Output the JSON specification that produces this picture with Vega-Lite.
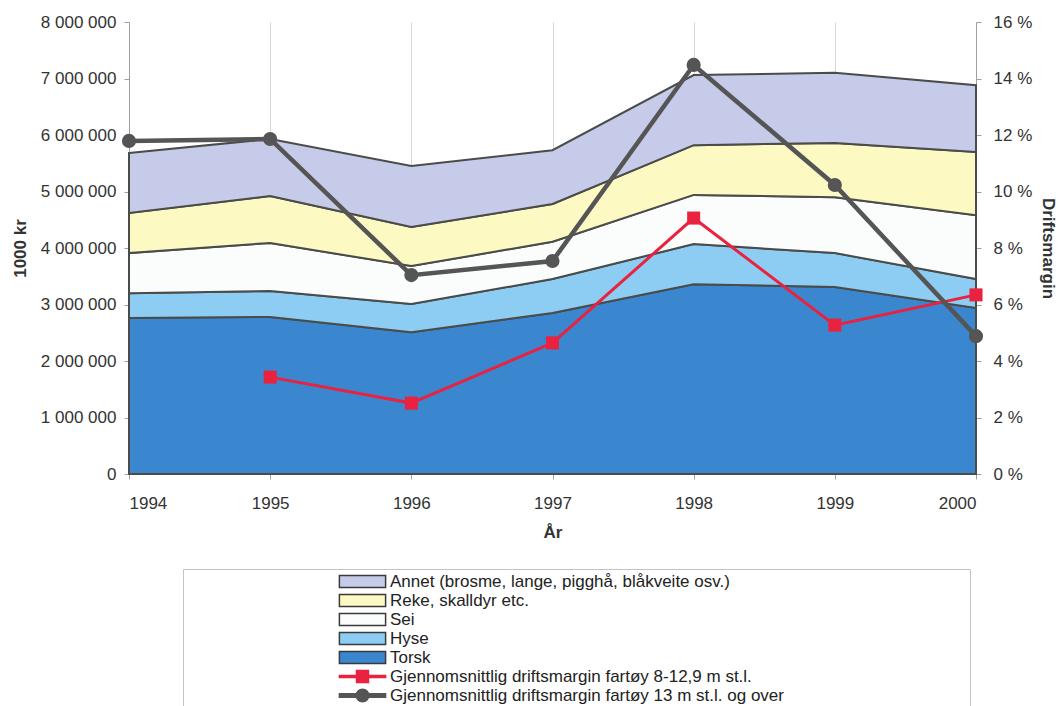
{
  "$schema": "https://vega.github.io/schema/vega-lite/v6.json",
  "width": 847,
  "height": 452,
  "autosize": {"type": "none"},
  "padding": {"left": 129, "top": 22, "right": 85, "bottom": 232},
  "background": "white",
  "config": {
    "view": {"stroke": null},
    "font": "Liberation Sans",
    "locale": {"number": {"decimal": ",", "thousands": " ", "grouping": [3], "currency": ["", " kr"]}},
    "axis": {
      "labelFontSize": 17,
      "labelColor": "#333333",
      "labelFont": "Liberation Sans",
      "titleFont": "Liberation Sans",
      "titleFontSize": 17,
      "titleFontWeight": "bold",
      "titleColor": "#333333",
      "domainColor": "#a0a0a0",
      "tickColor": "#a0a0a0",
      "tickSize": 5
    },
    "legend": {
      "orient": "none",
      "legendX": 54,
      "legendY": 547,
      "labelFontSize": 17,
      "labelColor": "#222222",
      "labelFont": "Liberation Sans",
      "labelLimit": 700,
      "symbolSize": 144,
      "symbolOffset": 167,
      "labelOffset": 19,
      "rowPadding": 0,
      "padding": 4,
      "strokeColor": "#c4c4c4",
      "fillColor": "white",
      "symbolOpacity": 1,
      "symbolStrokeWidth": 1.5,
      "titleOrient": "right",
      "titleAngle": 0,
      "titleFontSize": 17,
      "titleFont": "DejaVu Sans",
      "titleColor": "transparent",
      "titlePadding": 5,
      "titleLimit": 180
    }
  },
  "datasets": {
    "areas": [
      {"year": 1994, "serie": "Torsk", "value": 2760000},
      {"year": 1995, "serie": "Torsk", "value": 2780000},
      {"year": 1996, "serie": "Torsk", "value": 2510000},
      {"year": 1997, "serie": "Torsk", "value": 2850000},
      {"year": 1998, "serie": "Torsk", "value": 3360000},
      {"year": 1999, "serie": "Torsk", "value": 3310000},
      {"year": 2000, "serie": "Torsk", "value": 2940000},
      {"year": 1994, "serie": "Hyse", "value": 440000},
      {"year": 1995, "serie": "Hyse", "value": 460000},
      {"year": 1996, "serie": "Hyse", "value": 500000},
      {"year": 1997, "serie": "Hyse", "value": 600000},
      {"year": 1998, "serie": "Hyse", "value": 710000},
      {"year": 1999, "serie": "Hyse", "value": 600000},
      {"year": 2000, "serie": "Hyse", "value": 510000},
      {"year": 1994, "serie": "Sei", "value": 710000},
      {"year": 1995, "serie": "Sei", "value": 850000},
      {"year": 1996, "serie": "Sei", "value": 670000},
      {"year": 1997, "serie": "Sei", "value": 660000},
      {"year": 1998, "serie": "Sei", "value": 870000},
      {"year": 1999, "serie": "Sei", "value": 990000},
      {"year": 2000, "serie": "Sei", "value": 1130000},
      {"year": 1994, "serie": "Reke, skalldyr etc.", "value": 710000},
      {"year": 1995, "serie": "Reke, skalldyr etc.", "value": 830000},
      {"year": 1996, "serie": "Reke, skalldyr etc.", "value": 690000},
      {"year": 1997, "serie": "Reke, skalldyr etc.", "value": 670000},
      {"year": 1998, "serie": "Reke, skalldyr etc.", "value": 880000},
      {"year": 1999, "serie": "Reke, skalldyr etc.", "value": 960000},
      {"year": 2000, "serie": "Reke, skalldyr etc.", "value": 1120000},
      {"year": 1994, "serie": "Annet (brosme, lange, pigghå, blåkveite osv.)", "value": 1060000},
      {"year": 1995, "serie": "Annet (brosme, lange, pigghå, blåkveite osv.)", "value": 1010000},
      {"year": 1996, "serie": "Annet (brosme, lange, pigghå, blåkveite osv.)", "value": 1080000},
      {"year": 1997, "serie": "Annet (brosme, lange, pigghå, blåkveite osv.)", "value": 950000},
      {"year": 1998, "serie": "Annet (brosme, lange, pigghå, blåkveite osv.)", "value": 1240000},
      {"year": 1999, "serie": "Annet (brosme, lange, pigghå, blåkveite osv.)", "value": 1240000},
      {"year": 2000, "serie": "Annet (brosme, lange, pigghå, blåkveite osv.)", "value": 1180000}
    ],
    "margins": [
      {"year": 1995, "serie": "Gjennomsnittlig driftsmargin fartøy 8-12,9 m st.l.", "pct": 3.43},
      {"year": 1996, "serie": "Gjennomsnittlig driftsmargin fartøy 8-12,9 m st.l.", "pct": 2.51},
      {"year": 1997, "serie": "Gjennomsnittlig driftsmargin fartøy 8-12,9 m st.l.", "pct": 4.64},
      {"year": 1998, "serie": "Gjennomsnittlig driftsmargin fartøy 8-12,9 m st.l.", "pct": 9.06},
      {"year": 1999, "serie": "Gjennomsnittlig driftsmargin fartøy 8-12,9 m st.l.", "pct": 5.27},
      {"year": 2000, "serie": "Gjennomsnittlig driftsmargin fartøy 8-12,9 m st.l.", "pct": 6.34},
      {"year": 1994, "serie": "Gjennomsnittlig driftsmargin fartøy 13 m st.l. og over", "pct": 11.79},
      {"year": 1995, "serie": "Gjennomsnittlig driftsmargin fartøy 13 m st.l. og over", "pct": 11.86},
      {"year": 1996, "serie": "Gjennomsnittlig driftsmargin fartøy 13 m st.l. og over", "pct": 7.04},
      {"year": 1997, "serie": "Gjennomsnittlig driftsmargin fartøy 13 m st.l. og over", "pct": 7.54},
      {"year": 1998, "serie": "Gjennomsnittlig driftsmargin fartøy 13 m st.l. og over", "pct": 14.48},
      {"year": 1999, "serie": "Gjennomsnittlig driftsmargin fartøy 13 m st.l. og over", "pct": 10.23},
      {"year": 2000, "serie": "Gjennomsnittlig driftsmargin fartøy 13 m st.l. og over", "pct": 4.88}
    ]
  },
  "layer": [
    {
      "data": {"name": "areas"},
      "transform": [
        {"calculate": "indexof(['Torsk', 'Hyse', 'Sei', 'Reke, skalldyr etc.', 'Annet (brosme, lange, pigghå, blåkveite osv.)'], datum.serie)", "as": "stackrank"}
      ],
      "mark": {"type": "area", "stroke": "#4a4c4a", "strokeWidth": 2, "opacity": 1},
      "encoding": {
        "x": {
          "field": "year", "type": "quantitative",
          "scale": {"domain": [1994, 2000], "nice": false, "zero": false},
          "axis": {"values": [1994, 1995, 1996, 1997, 1998, 1999, 2000], "format": "d", "title": "År", "grid": true, "gridColor": "#d6d6d6", "labelPadding": 16, "titlePadding": 13, "domain": false}
        },
        "y": {
          "field": "value", "type": "quantitative", "stack": "zero",
          "scale": {"domain": [0, 8000000], "nice": false},
          "axis": {"values": [0, 1000000, 2000000, 3000000, 4000000, 5000000, 6000000, 7000000, 8000000], "format": ",d", "title": "1000 kr", "grid": false, "labelPadding": 8, "titlePadding": 11}
        },
        "order": {"field": "stackrank", "type": "quantitative", "sort": "ascending"},
        "color": {
          "field": "serie", "type": "nominal",
          "scale": {
            "domain": ["Annet (brosme, lange, pigghå, blåkveite osv.)", "Reke, skalldyr etc.", "Sei", "Hyse", "Torsk", "Gjennomsnittlig driftsmargin fartøy 8-12,9 m st.l.", "Gjennomsnittlig driftsmargin fartøy 13 m st.l. og over"],
            "range": ["#c6cbe9", "#fcf9c3", "#fbfdfd", "#8ecdf3", "#3a87cf", "#e8223f", "#555555"]
          },
          "legend": {"title": "\u2800\u2800\u2800\u2800\u2800\u2800\u2800\u2800\u2800\u2800\u2800\u2800\u2800\u2800\u2800\u2800\u2800\u2800\u2800\u2800\u2800\u2800\u2800\u2800\u2800\u2800\u2800\u2800\u2800\u2800\u2800\u2800"}
        }
      }
    },
    {
      "data": {"name": "margins"},
      "encoding": {
        "x": {"field": "year", "type": "quantitative"},
        "y": {
          "field": "pct", "type": "quantitative",
          "scale": {"domain": [0, 16], "nice": false},
          "axis": {"orient": "right", "values": [0, 2, 4, 6, 8, 10, 12, 14, 16], "labelExpr": "datum.value + ' %'", "title": "Driftsmargin", "grid": false, "labelPadding": 12, "titlePadding": 7}
        }
      },
      "layer": [
        {
          "transform": [{"filter": {"field": "serie", "equal": "Gjennomsnittlig driftsmargin fartøy 8-12,9 m st.l."}}],
          "mark": {"type": "line", "color": "#e8223f", "strokeWidth": 3, "point": {"shape": "square", "size": 170, "filled": true, "opacity": 1, "color": "#e8223f"}}
        },
        {
          "transform": [{"filter": {"field": "serie", "equal": "Gjennomsnittlig driftsmargin fartøy 13 m st.l. og over"}}],
          "mark": {"type": "line", "color": "#555555", "strokeWidth": 4.5, "point": {"shape": "circle", "size": 200, "filled": true, "opacity": 1, "color": "#555555"}}
        },
        {
          "mark": {"type": "point", "filled": true, "opacity": 0},
          "encoding": {
            "color": {
              "field": "serie", "type": "nominal",
              "scale": {
                "domain": ["Annet (brosme, lange, pigghå, blåkveite osv.)", "Reke, skalldyr etc.", "Sei", "Hyse", "Torsk", "Gjennomsnittlig driftsmargin fartøy 8-12,9 m st.l.", "Gjennomsnittlig driftsmargin fartøy 13 m st.l. og over"],
                "range": ["#c6cbe9", "#fcf9c3", "#fbfdfd", "#8ecdf3", "#3a87cf", "#e8223f", "#555555"]
              },
              "legend": {"title": "\u2800\u2800\u2800\u2800\u2800\u2800\u2800\u2800\u2800\u2800\u2800\u2800\u2800\u2800\u2800\u2800\u2800\u2800\u2800\u2800\u2800\u2800\u2800\u2800\u2800\u2800\u2800\u2800\u2800\u2800\u2800\u2800"}
            },
            "stroke": {
              "field": "serie", "type": "nominal",
              "scale": {
                "domain": ["Annet (brosme, lange, pigghå, blåkveite osv.)", "Reke, skalldyr etc.", "Sei", "Hyse", "Torsk", "Gjennomsnittlig driftsmargin fartøy 8-12,9 m st.l.", "Gjennomsnittlig driftsmargin fartøy 13 m st.l. og over"],
                "range": ["#3a3a3a", "#3a3a3a", "#3a3a3a", "#3a3a3a", "#3a3a3a", "#e8223f", "#555555"]
              },
              "legend": {"title": "\u2800\u2800\u2800\u2800\u2800\u2800\u2800\u2800\u2800\u2800\u2800\u2800\u2800\u2800\u2800\u2800\u2800\u2800\u2800\u2800\u2800\u2800\u2800\u2800\u2800\u2800\u2800\u2800\u2800\u2800\u2800\u2800"}
            },
            "shape": {
              "field": "serie", "type": "nominal",
              "scale": {
                "domain": ["Annet (brosme, lange, pigghå, blåkveite osv.)", "Reke, skalldyr etc.", "Sei", "Hyse", "Torsk", "Gjennomsnittlig driftsmargin fartøy 8-12,9 m st.l.", "Gjennomsnittlig driftsmargin fartøy 13 m st.l. og over"],
                "range": ["M-3.85,-1H3.85V1H-3.85Z", "M-3.85,-1H3.85V1H-3.85Z", "M-3.85,-1H3.85V1H-3.85Z", "M-3.85,-1H3.85V1H-3.85Z", "M-3.85,-1H3.85V1H-3.85Z", "M-3.85,-0.15H3.85V0.15H-3.85Z M-1,-1H1V1H-1Z", "M-3.85,-0.3H3.85V0.3H-3.85Z M1.05,0A1.05,1.05 0 1,1 -1.05,0A1.05,1.05 0 1,1 1.05,0Z"]
              },
              "legend": {"title": "\u2800\u2800\u2800\u2800\u2800\u2800\u2800\u2800\u2800\u2800\u2800\u2800\u2800\u2800\u2800\u2800\u2800\u2800\u2800\u2800\u2800\u2800\u2800\u2800\u2800\u2800\u2800\u2800\u2800\u2800\u2800\u2800"}
            }
          }
        }
      ]
    }
  ],
  "resolve": {"scale": {"y": "independent"}}
}
